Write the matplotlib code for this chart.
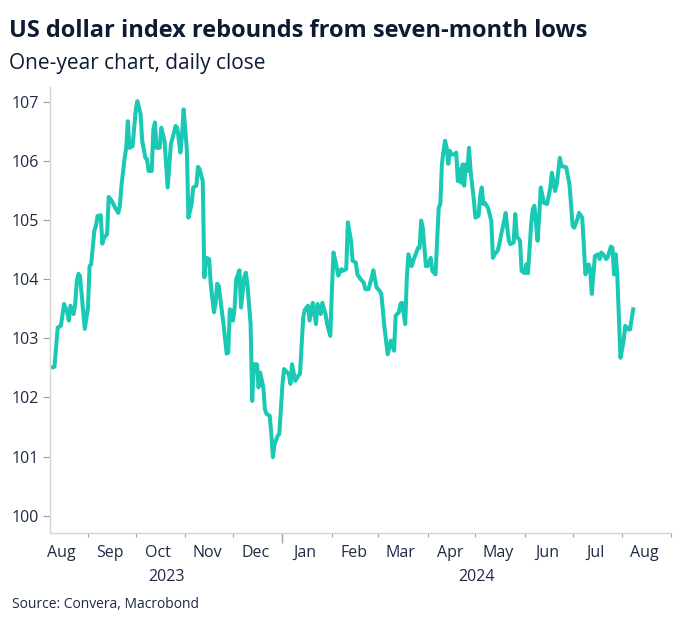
import matplotlib
matplotlib.use("Agg")
import matplotlib.pyplot as plt
import matplotlib.dates as mdates
import matplotlib.transforms as mtransforms
import pandas as pd

plt.rcParams['font.family'] = ['Open Sans', 'DejaVu Sans']

title = "US dollar index rebounds from seven-month lows"
subtitle = "One-year chart, daily close"
source = "Source: Convera, Macrobond"

start_date = "2023-08-10"
# days since start_date
day_offsets = [
    0, 1, 3, 5, 7, 9, 10, 11, 13, 14, 15, 16, 17, 18, 20, 22, 23, 24, 26, 27,
    28, 30, 31, 32, 34, 35, 37, 39, 41, 42, 43, 45, 46, 47, 48, 50, 52, 53, 55, 56,
    58, 59, 60, 62, 63, 64, 65, 67, 68, 70, 72, 74, 77, 78, 80, 81, 82, 84, 85, 87,
    88, 90, 91, 92, 94, 95, 96, 98, 99, 101, 102, 103, 104, 106, 107, 109, 110, 111, 112, 113,
    114, 115, 117, 118, 120, 121, 122, 124, 125, 126, 128, 129, 130, 132, 133, 134, 136, 137, 138, 139,
    141, 142, 144, 145, 146, 148, 149, 150, 152, 154, 155, 157, 158, 160, 161, 163, 165, 166, 168, 169,
    171, 172, 174, 175, 176, 178, 179, 181, 182, 184, 185, 187, 188, 190, 191, 193, 195, 196, 198, 200,
    201, 203, 205, 206, 208, 210, 211, 212, 214, 215, 217, 218, 219, 221, 222, 223, 225, 226, 228, 229,
    230, 231, 232, 234, 235, 237, 238, 240, 242, 243, 244, 245, 246, 247, 248, 249, 250, 252, 253, 254,
    255, 256, 257, 258, 259, 260, 261, 262, 264, 265, 267, 268, 269, 270, 271, 273, 275, 276, 277, 279,
    280, 281, 283, 284, 285, 286, 287, 289, 290, 291, 293, 294, 296, 297, 298, 300, 301, 302, 304, 305,
    306, 308, 310, 312, 313, 315, 316, 318, 319, 321, 322, 324, 325, 326, 327, 329, 330, 332, 333, 334,
    335, 336, 337, 338, 339, 340, 342, 343, 344, 346, 347, 348, 350, 351, 352, 353, 354, 355, 356, 358,
    359, 361, 362, 364,
]
dxy_close = [
    102.51, 102.52, 103.18, 103.21, 103.58, 103.44, 103.30, 103.55, 103.41, 103.58, 103.97, 104.09, 104.05, 103.75, 103.16, 103.52, 104.22, 104.25, 104.82, 104.90,
    105.07, 105.08, 104.60, 104.70, 104.76, 105.39, 105.32, 105.21, 105.12, 105.24, 105.58, 106.05, 106.22, 106.67, 106.22, 106.25, 106.87, 107.01, 106.79, 106.34,
    106.05, 106.03, 105.83, 105.83, 106.53, 106.65, 106.22, 106.22, 106.56, 106.34, 105.55, 106.28, 106.59, 106.56, 106.14, 106.45, 106.87, 106.20, 105.04, 105.27,
    105.55, 105.58, 105.90, 105.86, 105.66, 104.03, 104.36, 104.34, 103.92, 103.44, 103.58, 103.92, 103.89, 103.46, 103.24, 102.74, 102.76, 103.49, 103.46, 103.30,
    103.52, 104.00, 104.15, 103.52, 104.03, 104.11, 103.92, 103.24, 101.94, 102.56, 102.56, 102.17, 102.42, 102.17, 101.80, 101.72, 101.69, 101.38, 100.99, 101.21,
    101.35, 101.38, 102.22, 102.48, 102.45, 102.39, 102.23, 102.56, 102.28, 102.37, 102.40, 103.35, 103.48, 103.55, 103.30, 103.60, 103.24, 103.58, 103.41, 103.60,
    103.41, 103.24, 103.04, 103.80, 104.45, 104.20, 104.06, 104.17, 104.14, 104.17, 104.96, 104.65, 104.31, 104.28, 104.08, 104.00, 103.94, 103.83, 103.83, 104.03,
    104.15, 103.86, 103.80, 103.75, 103.18, 102.73, 102.84, 102.96, 102.79, 103.38, 103.44, 103.58, 103.60, 103.24, 104.03, 104.42, 104.22, 104.31, 104.45, 104.53,
    104.53, 104.99, 104.87, 104.22, 104.22, 104.36, 104.14, 104.08, 105.21, 105.27, 105.94, 106.17, 106.34, 106.22, 105.95, 106.17, 106.11, 106.11, 106.14, 105.66,
    105.86, 105.63, 105.94, 105.58, 105.94, 105.83, 106.22, 105.83, 105.35, 105.04, 105.07, 105.41, 105.55, 105.27, 105.29, 105.20, 104.98, 104.36, 104.42, 104.48,
    104.59, 104.73, 104.98, 105.12, 104.87, 104.65, 104.59, 104.62, 105.10, 104.72, 104.65, 104.14, 104.10, 104.25, 104.10, 104.93, 105.18, 105.24, 104.65, 105.04,
    105.55, 105.29, 105.27, 105.55, 105.80, 105.49, 105.60, 106.05, 105.91, 105.90, 105.89, 105.60, 105.27, 104.90, 104.87, 105.01, 105.12, 105.04, 104.59, 104.08,
    104.14, 104.25, 104.17, 103.75, 104.08, 104.39, 104.42, 104.34, 104.45, 104.39, 104.34, 104.37, 104.55, 104.53, 104.08, 104.42, 104.08, 103.35, 102.67, 102.96,
    103.21, 103.15, 103.15, 103.49,
]
y_ticks = [100, 101, 102, 103, 104, 105, 106, 107]
year_labels = ["2023", "2024"]

dates = pd.Timestamp(start_date) + pd.to_timedelta(day_offsets, unit="D")

line_color = "#19c9b4"
text_color = "#1e2a44"
axis_color = "#d4d4d4"

fig = plt.figure(figsize=(6.81, 6.21), dpi=100)
ax = fig.add_axes([0.073, 0.141, 0.913, 0.719])

ax.plot(dates, dxy_close, color=line_color, lw=2.9, solid_joinstyle="round")

x_left = pd.Timestamp("2023-08-08")
x_right = pd.Timestamp("2024-09-01")
ax.set_xlim(x_left, x_right)
ax.set_ylim(99.7, 107.25)
ax.set_yticks(y_ticks)
ax.set_yticklabels([str(v) for v in y_ticks])

for s in ["top", "right"]:
    ax.spines[s].set_visible(False)
for s in ["left", "bottom"]:
    ax.spines[s].set_color(axis_color)
    ax.spines[s].set_linewidth(1.0)

ax.tick_params(axis="y", length=5, width=0.8, color="#a0a0a0", labelsize=11.5,
               labelcolor=text_color, pad=3)

ax.xaxis.set_major_locator(mdates.MonthLocator())
ax.xaxis.set_major_formatter(plt.NullFormatter())
ax.xaxis.set_minor_locator(mdates.MonthLocator(bymonthday=15))
ax.xaxis.set_minor_formatter(mdates.DateFormatter("%b"))
ax.tick_params(axis="x", which="major", length=3, width=0.8, color="#a0a0a0")
ax.tick_params(axis="x", which="minor", length=0, labelsize=11.5, labelcolor=text_color, pad=8)

for t, loc in zip(ax.xaxis.get_major_ticks(), ax.xaxis.get_majorticklocs()):
    d = mdates.num2date(loc)
    if d.month == 1:
        t.tick1line.set_markersize(7)
        t.tick1line.set_markeredgewidth(1.0)

year_bounds = [x_left, pd.Timestamp("2024-01-01"), x_right]
trans = mtransforms.blended_transform_factory(ax.transData, ax.transAxes)
for i, lab in enumerate(year_labels):
    a = mdates.date2num(year_bounds[i])
    b = mdates.date2num(year_bounds[i + 1])
    ax.text((a + b) / 2, -0.098, lab, transform=trans, ha="center", va="center",
            fontsize=11.5, color=text_color)

fig.text(0.013, 0.950, title, fontsize=17, fontweight="bold", color="#0d1b33",
         ha="left", va="center")
fig.text(0.013, 0.898, subtitle, fontsize=15, color="#0d1b33", ha="left", va="center")
fig.text(0.018, 0.026, source, fontsize=10, color="#1e2a44", ha="left", va="center")

fig.savefig("out.png", dpi=100)
